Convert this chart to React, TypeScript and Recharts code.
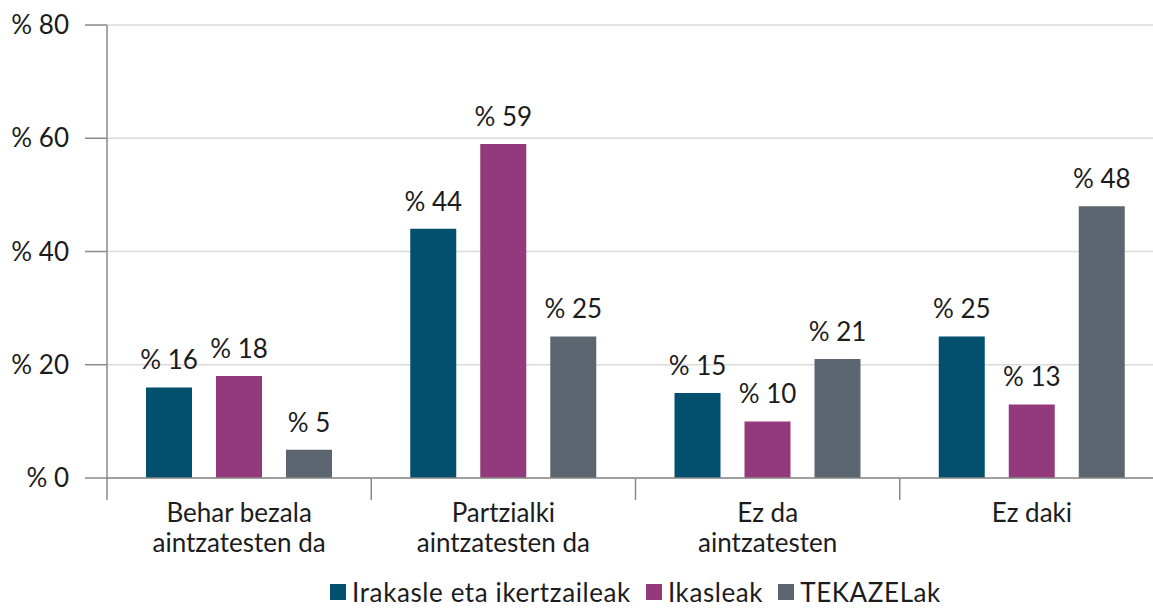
import React from "react";
import { BarChart, Bar, XAxis, YAxis, CartesianGrid, Legend, LabelList } from "recharts";

const categories = ["Behar bezala\naintzatesten da", "Partzialki\naintzatesten da", "Ez da\naintzatesten", "Ez daki"];
const irakasleak = [16, 44, 15, 25];
const ikasleak = [18, 59, 10, 13];
const tekazelak = [5, 25, 21, 48];
const yTicks = [0, 20, 40, 60, 80];

const seriesNames = ["Irakasle eta ikertzaileak", "Ikasleak", "TEKAZELak"];
const seriesKeys = ["irak", "ikas", "tek"];
const seriesColors = ["#024f6e", "#933a7d", "#5c6670"];

const data = categories.map((c, i) => ({
  name: c,
  irak: irakasleak[i],
  ikas: ikasleak[i],
  tek: tekazelak[i],
}));

const W = 1172;
const H = 608;
const M = { top: 25, right: 8, bottom: 0, left: 0 };
const Y_W = 107;
const FONT = "Lato, 'Open Sans', sans-serif";
const FS = 26;
const TEXT = "#1c1c1c";
const AXIS = "#8a8a8a";
const band = (W - M.left - M.right - Y_W) / categories.length;

const XTick = (props: any) => {
  const { x, y, payload, index } = props;
  const lines = String(payload.value).split("\n");
  const left = x - band / 2;
  return (
    <g>
      <line x1={left} x2={left} y1={y} y2={y + 22} stroke={AXIS} strokeWidth={1.5} />
      {index === categories.length - 1 && (
        <line x1={left + band} x2={left + band} y1={y} y2={y + 22} stroke={AXIS} strokeWidth={1.5} />
      )}
      {lines.map((l, i) => (
        <text key={i} x={x} y={y + 44 + i * 30} textAnchor="middle" fontFamily={FONT} fontSize={FS} fill={TEXT}>
          {l}
        </text>
      ))}
    </g>
  );
};

const LegendContent = () => (
  <div
    style={{
      width: W,
      height: 32,
      boxSizing: "border-box",
      paddingLeft: Y_W,
      paddingRight: M.right,
      display: "flex",
      justifyContent: "center",
      alignItems: "center",
      fontFamily: FONT,
      fontSize: FS,
      letterSpacing: 0.6,
      lineHeight: "30px",
      color: TEXT,
    }}
  >
    {seriesNames.map((n, i) => (
      <div key={n} style={{ display: "flex", alignItems: "center", marginRight: i < seriesNames.length - 1 ? 15 : 0 }}>
        <div style={{ width: 16, height: 16, background: seriesColors[i], marginRight: 6 }} />
        <span>{n}</span>
      </div>
    ))}
  </div>
);

export default function App() {
  return (
    <div style={{ position: "absolute", left: 0, top: 0, width: 1153, height: H, overflow: "hidden", background: "#fff" }}>
      <BarChart width={W} height={H} data={data} margin={M} barSize={46} barGap={24}>
        <CartesianGrid vertical={false} stroke="#dadada" strokeWidth={1.3} />
        <XAxis
          dataKey="name"
          height={98}
          tickSize={0}
          tickMargin={0}
          tickLine={false}
          axisLine={{ stroke: AXIS, strokeWidth: 1.5 }}
          tick={<XTick />}
          interval={0}
        />
        <YAxis
          width={Y_W}
          domain={[0, 80]}
          ticks={yTicks}
          tickSize={22}
          tickMargin={16}
          axisLine={{ stroke: AXIS, strokeWidth: 1.5 }}
          tickLine={{ stroke: AXIS, strokeWidth: 1.5 }}
          tick={{ fontFamily: FONT, fontSize: FS, fill: TEXT }}
          tickFormatter={(v: number) => `% ${v}`}
        />
        <Legend verticalAlign="bottom" wrapperStyle={{ left: 0, bottom: 0, width: W }} content={<LegendContent />} />
        {seriesKeys.map((k, i) => (
          <Bar key={k} dataKey={k} name={seriesNames[i]} fill={seriesColors[i]} isAnimationActive={false}>
            <LabelList
              dataKey={k}
              position="top"
              offset={18}
              formatter={(v: any) => `% ${v}`}
              style={{ fontFamily: FONT, fontSize: FS, fill: TEXT }}
            />
          </Bar>
        ))}
      </BarChart>
    </div>
  );
}
